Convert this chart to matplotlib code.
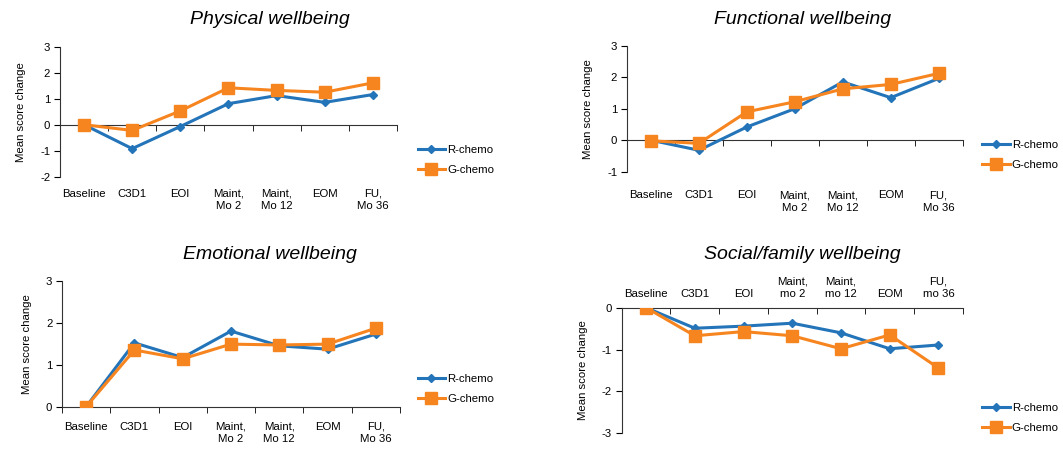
import matplotlib.pyplot as plt
from matplotlib.lines import Line2D

plt.rcParams['font.family'] = ['Liberation Sans', 'DejaVu Sans']
plt.rcParams['axes.unicode_minus'] = False

cats = ['Baseline', 'C3D1', 'EOI', 'Maint,\nMo 2', 'Maint,\nMo 12', 'EOM', 'FU,\nMo 36']
cats_social = ['Baseline', 'C3D1', 'EOI', 'Maint,\nmo 2', 'Maint,\nmo 12', 'EOM', 'FU,\nmo 36']

phys_r = [0, -0.92, -0.07, 0.81, 1.12, 0.86, 1.16]
phys_g = [0, -0.22, 0.53, 1.42, 1.32, 1.25, 1.61]
func_r = [0, -0.32, 0.42, 1.0, 1.85, 1.35, 1.96]
func_g = [-0.02, -0.1, 0.9, 1.22, 1.63, 1.77, 2.12]
emo_r = [0, 1.52, 1.17, 1.8, 1.45, 1.37, 1.73]
emo_g = [0, 1.35, 1.14, 1.49, 1.47, 1.49, 1.87]
soc_r = [0, -0.49, -0.44, -0.37, -0.6, -0.98, -0.89]
soc_g = [0, -0.67, -0.57, -0.67, -0.98, -0.65, -1.44]

blue = '#2374B8'
orange = '#F7851F'

fig = plt.figure(figsize=(10.63, 4.51), dpi=100)


def panel(rect, title, title_xy, r, g, labels, ylim, yticks, mode, pad, leg_xy):
    ax = fig.add_axes(rect)
    x = range(len(labels))
    ax.plot(x, r, color=blue, lw=2.2, marker='D', ms=4, zorder=3)
    ax.plot(x, g, color=orange, lw=2.2, marker='s', ms=8, zorder=4)
    ax.set_xlim(-0.5, len(labels) - 0.5)
    ax.set_ylim(*ylim)
    ax.set_yticks(yticks)
    ax.spines['right'].set_visible(False)
    ax.tick_params(axis='y', direction='out', length=4, labelsize=8.2, pad=3)
    ax.set_ylabel('Mean score change', fontsize=8.2, labelpad=10)
    ax.set_xticks(list(x))
    ax.set_xticks([i - 0.5 for i in range(len(labels) + 1)], minor=True)
    if mode == 'top':
        ax.spines['bottom'].set_visible(False)
        ax.xaxis.tick_top()
        ax.tick_params(axis='x', which='minor', direction='in', length=4, top=True, bottom=False)
        ax.tick_params(axis='x', which='major', length=0, labelsize=8.2, pad=pad, top=True, bottom=False)
    else:
        ax.spines['top'].set_visible(False)
        if mode == 'zero':
            ax.spines['bottom'].set_position(('data', 0))
        ax.tick_params(axis='x', which='minor', direction='out', length=4)
        ax.tick_params(axis='x', which='major', length=0, labelsize=8.2, pad=pad)
    ax.set_xticklabels(labels, linespacing=1.3)
    for sp in ax.spines.values():
        sp.set_color('#333333')
    fig.text(title_xy[0], title_xy[1], title, ha='center', va='center',
             fontsize=14, style='italic')
    handles = [Line2D([], [], color=blue, lw=2.2, marker='D', ms=4),
               Line2D([], [], color=orange, lw=2.2, marker='s', ms=8)]
    fig.legend(handles, ['R-chemo', 'G-chemo'], loc='center left',
               bbox_to_anchor=leg_xy, frameon=False, fontsize=8.2,
               handlelength=2.4, handletextpad=0.2, labelspacing=0.9,
               borderaxespad=0, borderpad=0)
    return ax


panel([0.0564, 0.6082, 0.317, 0.2882], 'Physical wellbeing', (0.254, 0.956),
      phys_r, phys_g, cats, (-2, 3), [-2, -1, 0, 1, 2, 3], 'zero', 46, (0.393, 0.645))
panel([0.5898, 0.6193, 0.3158, 0.2794], 'Functional wellbeing', (0.755, 0.956),
      func_r, func_g, cats, (-1, 3), [-1, 0, 1, 2, 3], 'zero', 36, (0.924, 0.657))
panel([0.0583, 0.0982, 0.318, 0.2794], 'Emotional wellbeing', (0.254, 0.435),
      emo_r, emo_g, cats, (0, 3), [0, 1, 2, 3], 'bottom', 11, (0.393, 0.137))
panel([0.5849, 0.0392, 0.3208, 0.2785], 'Social/family wellbeing', (0.755, 0.435),
      soc_r, soc_g, cats_social, (-3, 0), [-3, -2, -1, 0], 'top', 6, (0.924, 0.073))

fig.savefig('out.png', dpi=100)
